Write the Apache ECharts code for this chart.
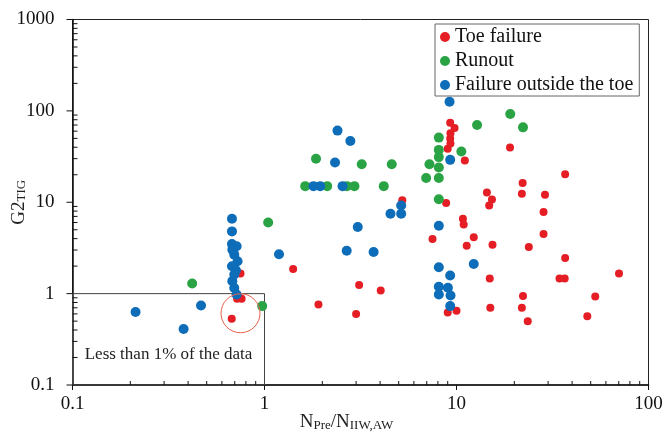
<!DOCTYPE html>
<html>
<head>
<meta charset="utf-8">
<script src="https://cdn.jsdelivr.net/npm/echarts@6/dist/echarts.min.js"></script>
<style>
html,body{margin:0;padding:0;background:#fff;}
#chart{width:665px;height:433px;}
</style>
</head>
<body>
<div id="chart"></div>
<script>
// ---- data (x = NPre/NIIW,AW, y = G2TIG) ----
const toeFailure = [
  [0.75,1.66],[0.72,0.88],[0.76,0.88],[0.675,0.53],[1.41,1.86],[1.91,0.76],[3.11,1.24],[3.0,0.60],
  [4.03,1.08],[5.22,10.5],[8.83,9.8],[7.5,3.96],[9.0,0.62],[10.0,0.65],[9.27,74],[9.77,65],
  [9.3,57],[9.27,50],[9.3,44],[9.0,38.5],[11.05,28.7],[19.0,39.7],[10.8,6.6],[10.9,5.7],
  [12.3,4.13],[11.3,3.35],[14.4,12.8],[15.3,10.7],[14.8,9.2],[15.4,3.42],[14.9,1.46],[15.0,0.70],
  [22.1,16.2],[21.9,12.4],[28.9,12.1],[28.4,7.8],[28.4,4.5],[23.8,3.24],[36.8,20.2],[36.8,2.45],
  [34.4,1.46],[36.6,1.46],[22.2,0.94],[21.9,0.70],[23.5,0.50],[52.8,0.93],[48,0.565],[70.2,1.66]
];
const runout = [
  [0.42,1.29],[0.973,0.73],[1.045,6.0],[1.855,29.9],[1.63,15.0],[2.12,15.0],[2.69,15.0],[2.94,15.0],
  [4.18,15.0],[3.21,26.1],[4.60,26.1],[8.09,51],[8.09,37.4],[8.09,31.2],[7.23,26.1],[8.09,24.0],
  [6.95,18.4],[8.09,18.4],[8.09,10.8],[10.6,35.9],[12.8,70],[19.05,92.5],[22.2,66]
];
const failureOutside = [
  [0.213,0.63],[0.379,0.41],[0.467,0.74],[0.677,6.6],[0.677,4.8],[0.677,3.5],[0.716,3.3],[0.68,3.03],
  [0.696,2.67],[0.724,2.26],[0.677,1.99],[0.71,1.8],[0.696,1.62],[0.68,1.37],[0.696,1.15],[0.716,0.98],
  [1.19,2.7],[1.80,15],[1.95,15],[2.55,15],[2.40,60.8],[2.80,46.9],[2.33,27.2],[3.06,5.36],
  [2.68,2.95],[3.70,2.86],[4.53,7.49],[5.15,9.23],[5.15,7.49],[9.2,126],[9.27,29.1],[8.09,5.54],
  [12.3,2.11],[8.09,1.94],[9.27,1.58],[8.09,1.19],[9.02,1.16],[8.09,0.98],[9.31,0.955],[9.27,0.73]
];
const seriesNames = ['Toe failure','Runout','Failure outside the toe'];
const xMajorTicks = [0.1, 1, 10, 100];
const yMajorTicks = [0.1, 1, 10, 100, 1000];
const xMinorTicks = [0.2,0.3,0.4,0.5,0.6,0.7,0.8,0.9,2,3,4,5,6,7,8,9,20,30,40,50,60,70,80,90];
const yMinorTicks = [0.2,0.3,0.4,0.5,0.6,0.7,0.8,0.9,2,3,4,5,6,7,8,9,20,30,40,50,60,70,80,90,200,300,400,500,600,700,800,900];
const boxCorners = [[0.1,0.1],[1,1]];
const boxText = 'Less than 1% of the data';
const circledPoint = [0.75, 0.61];

const SERIF = '"Liberation Serif","Times New Roman",serif';
const chart = echarts.init(document.getElementById('chart'), null, {renderer:'canvas'});

const fmt = v => String(+v.toPrecision(6));
const X0 = xMajorTicks[0], Y0 = yMajorTicks[0];

// tick marks drawn through the axes' own scales (api.coord); dx/dy = tick length in px
function tickSeries(name, values, isX, len) {
  return {
    name, type: 'custom', silent: true, clip: false, z: 5,
    data: values.map(v => isX ? [v, Y0] : [X0, v]),
    renderItem: (params, api) => {
      const p = api.coord([api.value(0), api.value(1)]);
      const shape = isX ? {x1: p[0], y1: p[1], x2: p[0], y2: p[1] - len}
                        : {x1: p[0], y1: p[1], x2: p[0] + len, y2: p[1]};
      return {type: 'line', shape, style: {stroke: '#111', lineWidth: 1}};
    }
  };
}

const option = {
  animation: false,
  backgroundColor: '#fff',
  grid: {left: 72.5, right: 16.5, top: 19.5, bottom: 48, show: true, containLabel: false,
         outerBoundsMode: 'none',
         borderColor: '#222', borderWidth: 1, backgroundColor: 'transparent'},
  legend: {
    data: seriesNames,
    orient: 'vertical', left: 435, top: 24,
    icon: 'circle', itemWidth: 10, itemHeight: 10, itemGap: 4, itemTextGap: 6,
    padding: [3, 6, 1, 5],
    backgroundColor: '#fff', borderColor: '#666', borderWidth: 1,
    textStyle: {fontFamily: SERIF, fontSize: 20, color: '#111', lineHeight: 20}
  },
  xAxis: {
    type: 'log', logBase: 10, min: 0.1, max: 100,
    position: 'bottom',
    name: '{b|N}{s|Pre}{b|/N}{s|IIW,AW}',
    nameLocation: 'middle', nameGap: 27, nameMoveOverlap: false,
    nameTextStyle: {padding: [0, 28, 0, 0], rich: {
      b: {fontFamily: SERIF, fontSize: 19, color: '#222', verticalAlign: 'bottom', lineHeight: 20},
      s: {fontFamily: SERIF, fontSize: 13, color: '#222', verticalAlign: 'bottom', lineHeight: 16}
    }},
    axisLine: {onZero: false, lineStyle: {color: '#111', width: 1.5}},
    axisTick: {show: false},
    axisLabel: {fontFamily: SERIF, fontSize: 19, color: '#111', margin: 10, formatter: fmt, customValues: xMajorTicks},
    splitLine: {show: false}
  },
  yAxis: {
    type: 'log', logBase: 10, min: 0.1, max: 1000,
    position: 'left',
    name: '{b|G2}{s|TIG}',
    nameLocation: 'middle', nameGap: 44, nameRotate: 90, nameMoveOverlap: false,
    nameTextStyle: {rich: {
      b: {fontFamily: SERIF, fontSize: 19, color: '#222', verticalAlign: 'bottom', lineHeight: 20},
      s: {fontFamily: SERIF, fontSize: 13, color: '#222', verticalAlign: 'bottom', lineHeight: 16}
    }},
    axisLine: {onZero: false, lineStyle: {color: '#111', width: 1.5}},
    axisTick: {show: false},
    axisLabel: {fontFamily: SERIF, fontSize: 19, color: '#111', margin: 18, formatter: fmt, customValues: yMajorTicks},
    splitLine: {show: false}
  },
  series: [{
    name: seriesNames[0], type: 'scatter', data: toeFailure, symbolSize: 8,
    itemStyle: {color: '#E41E24', opacity: 1},
    markArea: {
      silent: true,
      itemStyle: {color: 'rgba(0,0,0,0)', borderColor: '#444', borderWidth: 1},
      label: {show: true, position: 'insideBottom', distance: 22, formatter: boxText,
              fontFamily: SERIF, fontSize: 17, color: '#222'},
      data: [[{coord: boxCorners[0]}, {coord: boxCorners[1]}]]
    },
    markPoint: {
      silent: true, symbol: 'circle', symbolSize: 39,
      itemStyle: {color: 'rgba(0,0,0,0)', borderColor: '#E8604E', borderWidth: 1},
      label: {show: false},
      data: [{coord: circledPoint}]
    }
  }, {
    name: seriesNames[1], type: 'scatter', data: runout, symbolSize: 10,
    itemStyle: {color: '#2AA345', opacity: 1}
  }, {
    name: seriesNames[2], type: 'scatter', data: failureOutside, symbolSize: 10,
    itemStyle: {color: '#0E6DB8', opacity: 1}
  },
    tickSeries('xMinor', xMinorTicks, true, 4),
    tickSeries('yMinor', yMinorTicks, false, 5),
    tickSeries('xMajor', xMajorTicks, true, -5),
    tickSeries('yMajor', yMajorTicks, false, -6)
  ]
};
chart.setOption(option);
</script>
</body>
</html>
